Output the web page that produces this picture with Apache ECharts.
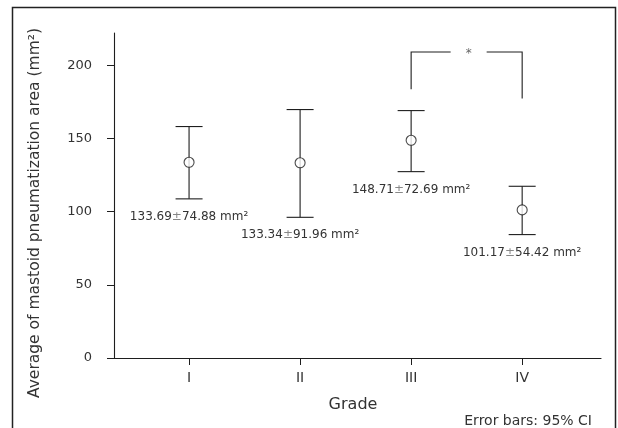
<!DOCTYPE html>
<html>
<head>
<meta charset="utf-8">
<script src="https://cdn.jsdelivr.net/npm/echarts@6/dist/echarts.min.js"></script>
<style>
    html, body {margin: 0; padding: 0; background: #fff;}
    #chart {width: 618px; height: 428px;}
</style>
</head>
<body>
<div id="chart"></div>
<script>
//分组
var grades = ['I', 'II', 'III', 'IV'];
var gradePos = [1, 2, 3, 4];
//均值 ± 标准差（标注文字）
var means = [133.69, 133.34, 148.71, 101.17];
var sds = [74.88, 91.96, 72.69, 54.42];
//95% CI 上下限
var ciLow = [108.7, 96.1, 127.3, 84.3];
var ciHigh = [158.1, 169.7, 169.0, 117.3];
//y轴刻度
var yTicks = [0, 50, 100, 150, 200];
//显著性标记：III vs IV
var sigPair = [3, 4];
var sigTop = 209;
var sigEnds = [183.5, 177.2];

var font = 'DejaVu Sans';
var ink = '#1e1e1e';

var chart = echarts.init(document.getElementById('chart'), null, {renderer: 'canvas'});

var barData = [];
var meanData = [];
for (var i = 0; i < grades.length; i++) {
    barData.push([gradePos[i], ciLow[i], ciHigh[i], means[i], sds[i]]);
    meanData.push([gradePos[i], means[i]]);
}

//误差线 + 下方标注
function renderErrorBar(params, api) {
    var x = api.value(0);
    var top = api.coord([x, api.value(2)]);
    var bot = api.coord([x, api.value(1)]);
    var half = 13.5;
    var style = {stroke: ink, lineWidth: 1.1};
    return {
        type: 'group',
        children: [
            {type: 'line', shape: {x1: top[0], y1: top[1], x2: bot[0], y2: bot[1]}, style: style},
            {type: 'line', shape: {x1: top[0] - half, y1: top[1], x2: top[0] + half, y2: top[1]}, style: style},
            {type: 'line', shape: {x1: bot[0] - half, y1: bot[1], x2: bot[0] + half, y2: bot[1]}, style: style},
            {
                type: 'text',
                x: bot[0],
                y: bot[1] + 18,
                style: {
                    text: '{v|' + api.value(3).toFixed(2) + '}{pm|±}{v|' + api.value(4).toFixed(2) + ' mm²}',
                    align: 'center',
                    verticalAlign: 'middle',
                    rich: {
                        v: {fontFamily: font, fontSize: 12, fill: '#333'},
                        pm: {fontFamily: font, fontSize: 12, fill: '#888'}
                    }
                }
            }
        ]
    };
}

//显著性括号
function renderBracket(params, api) {
    var l = api.coord([api.value(0), api.value(3)]);
    var r = api.coord([api.value(1), api.value(4)]);
    var t = api.coord([api.value(0), api.value(2)])[1];
    var mid = (l[0] + r[0]) / 2 + 2;
    var gap = 18;
    var style = {stroke: ink, lineWidth: 1.1, fill: null};
    return {
        type: 'group',
        children: [
            {type: 'polyline', shape: {points: [[l[0], l[1]], [l[0], t], [mid - gap, t]]}, style: style},
            {type: 'polyline', shape: {points: [[mid + gap, t], [r[0], t], [r[0], r[1]]]}, style: style},
            {
                type: 'text',
                x: mid,
                y: t + 2,
                style: {text: '*', fontFamily: font, fontSize: 12, fill: '#666', align: 'center', verticalAlign: 'middle'}
            }
        ]
    };
}

var option = {
    animation: false,
    grid: {left: 114, right: 17, top: 33, bottom: 70},
    xAxis: {
        type: 'value',
        min: 0.324,
        max: 4.71,
        axisLine: {show: true, lineStyle: {color: ink, width: 1.1}},
        axisTick: {show: true, length: 7, customValues: gradePos, lineStyle: {color: ink}},
        axisLabel: {
            customValues: gradePos,
            margin: 13,
            color: '#333',
            fontFamily: font,
            fontSize: 14,
            formatter: function (v) {
                return grades[Math.round(v) - 1] || '';
            }
        },
        splitLine: {show: false}
    },
    yAxis: {
        type: 'value',
        min: 0,
        max: 222,
        axisLine: {show: true, lineStyle: {color: ink, width: 1.1}},
        axisTick: {show: true, length: 7, customValues: yTicks, lineStyle: {color: ink}},
        axisLabel: {customValues: yTicks, margin: 22, color: '#333', fontFamily: font, fontSize: 13},
        splitLine: {show: false}
    },
    graphic: [
        {
            type: 'rect',
            shape: {x: 12.5, y: 7.5, width: 603, height: 440},
            style: {fill: null, stroke: '#222', lineWidth: 1.5},
            silent: true
        },
        {
            type: 'text',
            x: 35,
            y: 213,
            rotation: Math.PI / 2,
            style: {
                text: 'Average of mastoid pneumatization area (mm²)',
                fontFamily: font,
                fontSize: 15.5,
                fill: '#333',
                align: 'center',
                verticalAlign: 'middle'
            }
        },
        {
            type: 'text',
            x: 353,
            y: 405,
            style: {text: 'Grade', fontFamily: font, fontSize: 16, fill: '#333', align: 'center', verticalAlign: 'middle'}
        },
        {
            type: 'text',
            x: 592,
            y: 421,
            style: {text: 'Error bars: 95% CI', fontFamily: font, fontSize: 14, fill: '#333', align: 'right', verticalAlign: 'middle'}
        }
    ],
    series: [
        {
            type: 'custom',
            renderItem: renderErrorBar,
            data: barData,
            encode: {x: 0, y: [1, 2]},
            z: 2
        },
        {
            type: 'scatter',
            data: meanData,
            symbol: 'circle',
            symbolSize: 10,
            itemStyle: {color: '#fff', borderColor: ink, borderWidth: 1.1},
            z: 3
        },
        {
            type: 'custom',
            renderItem: renderBracket,
            data: [[sigPair[0], sigPair[1], sigTop, sigEnds[0], sigEnds[1]]],
            encode: {x: [0, 1], y: 2},
            z: 2
        }
    ]
};
chart.setOption(option);
</script>
</body>
</html>
